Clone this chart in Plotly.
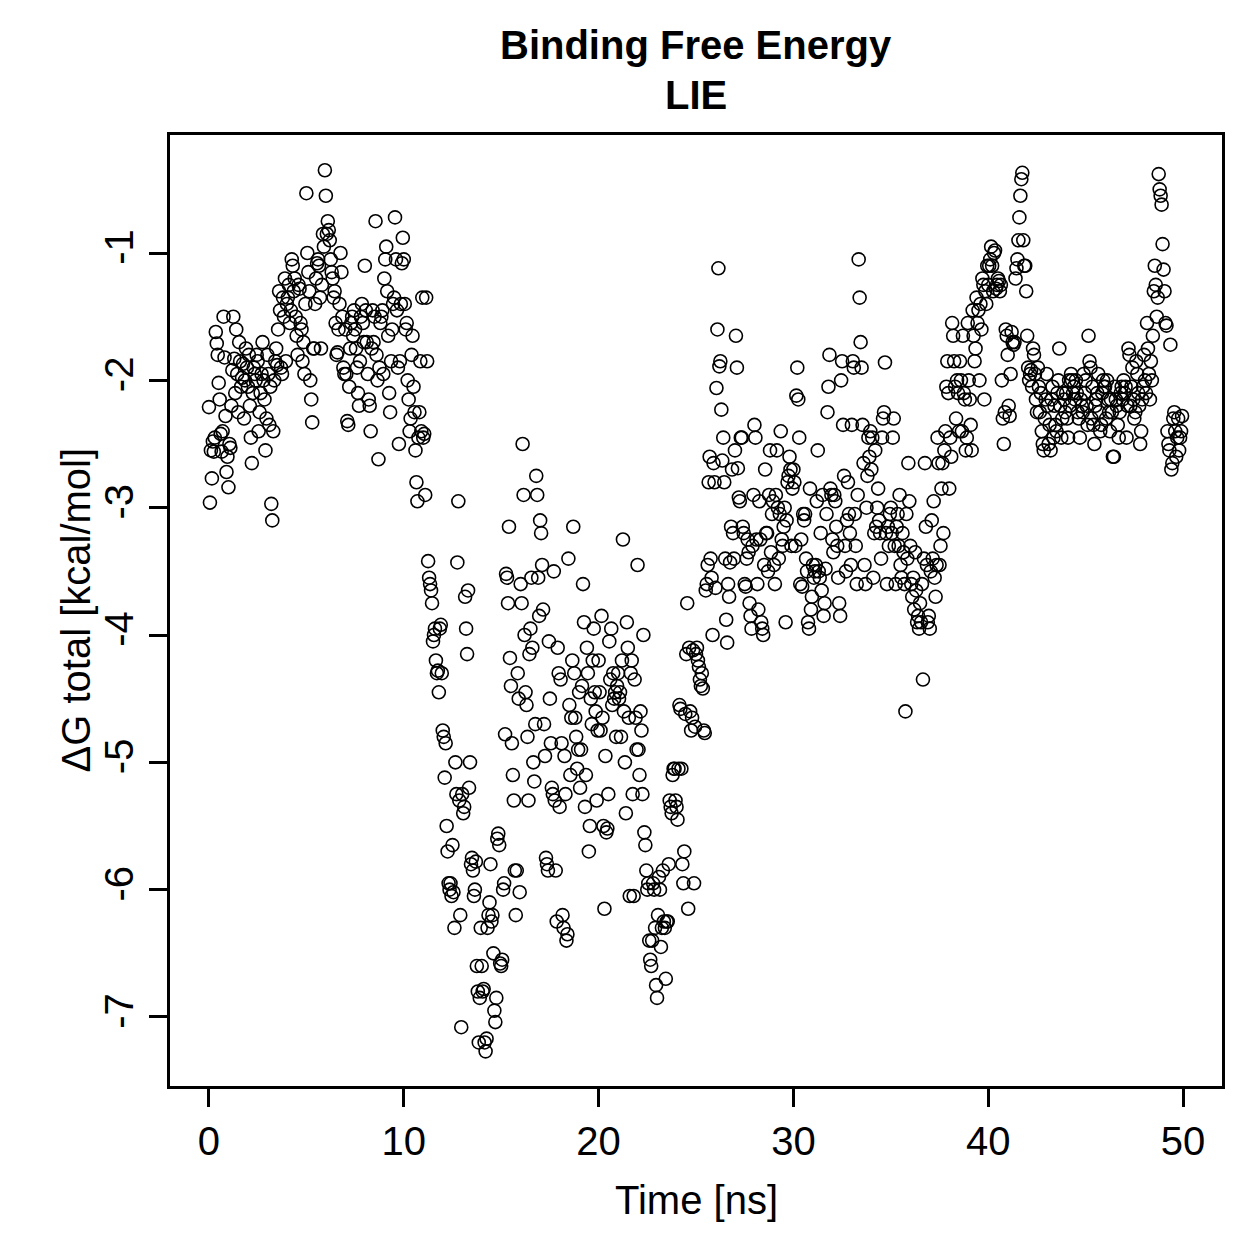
import plotly.graph_objects as go

# Time [ns] of each frame
time_ns = [
0.00,0.05,0.10,0.15,0.20,0.25,0.30,0.35,0.40,0.45,0.50,0.55,0.60,0.65,0.70,0.75,0.80,0.85,0.90,0.95,
1.00,1.05,1.10,1.15,1.20,1.25,1.30,1.35,1.40,1.45,1.50,1.55,1.60,1.65,1.70,1.75,1.80,1.85,1.90,1.95,
2.00,2.05,2.10,2.15,2.20,2.25,2.30,2.35,2.40,2.45,2.50,2.55,2.60,2.65,2.70,2.75,2.80,2.85,2.90,2.95,
3.00,3.05,3.10,3.15,3.20,3.25,3.30,3.35,3.40,3.45,3.50,3.55,3.60,3.65,3.70,3.75,3.80,3.85,3.90,3.95,
4.00,4.05,4.10,4.15,4.20,4.25,4.30,4.35,4.40,4.45,4.50,4.55,4.60,4.65,4.70,4.75,4.80,4.85,4.90,4.95,
5.00,5.05,5.10,5.15,5.20,5.25,5.30,5.35,5.40,5.45,5.50,5.55,5.60,5.65,5.70,5.75,5.80,5.85,5.90,5.95,
6.00,6.05,6.10,6.15,6.20,6.25,6.30,6.35,6.40,6.45,6.50,6.55,6.60,6.65,6.70,6.75,6.80,6.85,6.90,6.95,
7.00,7.05,7.10,7.15,7.20,7.25,7.30,7.35,7.40,7.45,7.50,7.55,7.60,7.65,7.70,7.75,7.80,7.85,7.90,7.95,
8.00,8.05,8.10,8.15,8.20,8.25,8.30,8.35,8.40,8.45,8.50,8.55,8.60,8.65,8.70,8.75,8.80,8.85,8.90,8.95,
9.00,9.05,9.10,9.15,9.20,9.25,9.30,9.35,9.40,9.45,9.50,9.55,9.60,9.65,9.70,9.75,9.80,9.85,9.90,9.95,
10.00,10.05,10.10,10.15,10.20,10.25,10.30,10.35,10.40,10.45,10.50,10.55,10.60,10.65,10.70,10.75,10.80,10.85,10.90,10.95,
11.00,11.05,11.10,11.15,11.20,11.25,11.30,11.35,11.40,11.45,11.50,11.55,11.60,11.65,11.70,11.75,11.80,11.85,11.90,11.95,
12.00,12.05,12.10,12.15,12.20,12.25,12.30,12.35,12.40,12.45,12.50,12.55,12.60,12.65,12.70,12.75,12.80,12.85,12.90,12.95,
13.00,13.05,13.10,13.15,13.20,13.25,13.30,13.35,13.40,13.45,13.50,13.55,13.60,13.65,13.70,13.75,13.80,13.85,13.90,13.95,
14.00,14.05,14.10,14.15,14.20,14.25,14.30,14.35,14.40,14.45,14.50,14.55,14.60,14.65,14.70,14.75,14.80,14.85,14.90,14.95,
15.00,15.05,15.10,15.15,15.20,15.25,15.30,15.35,15.40,15.45,15.50,15.55,15.60,15.65,15.70,15.75,15.80,15.85,15.90,15.95,
16.00,16.05,16.10,16.15,16.20,16.25,16.30,16.35,16.40,16.45,16.50,16.55,16.60,16.65,16.70,16.75,16.80,16.85,16.90,16.95,
17.00,17.05,17.10,17.15,17.20,17.25,17.30,17.35,17.40,17.45,17.50,17.55,17.60,17.65,17.70,17.75,17.80,17.85,17.90,17.95,
18.00,18.05,18.10,18.15,18.20,18.25,18.30,18.35,18.40,18.45,18.50,18.55,18.60,18.65,18.70,18.75,18.80,18.85,18.90,18.95,
19.00,19.05,19.10,19.15,19.20,19.25,19.30,19.35,19.40,19.45,19.50,19.55,19.60,19.65,19.70,19.75,19.80,19.85,19.90,19.95,
20.00,20.05,20.10,20.15,20.20,20.25,20.30,20.35,20.40,20.45,20.50,20.55,20.60,20.65,20.70,20.75,20.80,20.85,20.90,20.95,
21.00,21.05,21.10,21.15,21.20,21.25,21.30,21.35,21.40,21.45,21.50,21.55,21.60,21.65,21.70,21.75,21.80,21.85,21.90,21.95,
22.00,22.05,22.10,22.15,22.20,22.25,22.30,22.35,22.40,22.45,22.50,22.55,22.60,22.65,22.70,22.75,22.80,22.85,22.90,22.95,
23.00,23.05,23.10,23.15,23.20,23.25,23.30,23.35,23.40,23.45,23.50,23.55,23.60,23.65,23.70,23.75,23.80,23.85,23.90,23.95,
24.00,24.05,24.10,24.15,24.20,24.25,24.30,24.35,24.40,24.45,24.50,24.55,24.60,24.65,24.70,24.75,24.80,24.85,24.90,24.95,
25.00,25.05,25.10,25.15,25.20,25.25,25.30,25.35,25.40,25.45,25.50,25.55,25.60,25.65,25.70,25.75,25.80,25.85,25.90,25.95,
26.00,26.05,26.10,26.15,26.20,26.25,26.30,26.35,26.40,26.45,26.50,26.55,26.60,26.65,26.70,26.75,26.80,26.85,26.90,26.95,
27.00,27.05,27.10,27.15,27.20,27.25,27.30,27.35,27.40,27.45,27.50,27.55,27.60,27.65,27.70,27.75,27.80,27.85,27.90,27.95,
28.00,28.05,28.10,28.15,28.20,28.25,28.30,28.35,28.40,28.45,28.50,28.55,28.60,28.65,28.70,28.75,28.80,28.85,28.90,28.95,
29.00,29.05,29.10,29.15,29.20,29.25,29.30,29.35,29.40,29.45,29.50,29.55,29.60,29.65,29.70,29.75,29.80,29.85,29.90,29.95,
30.00,30.05,30.10,30.15,30.20,30.25,30.30,30.35,30.40,30.45,30.50,30.55,30.60,30.65,30.70,30.75,30.80,30.85,30.90,30.95,
31.00,31.05,31.10,31.15,31.20,31.25,31.30,31.35,31.40,31.45,31.50,31.55,31.60,31.65,31.70,31.75,31.80,31.85,31.90,31.95,
32.00,32.05,32.10,32.15,32.20,32.25,32.30,32.35,32.40,32.45,32.50,32.55,32.60,32.65,32.70,32.75,32.80,32.85,32.90,32.95,
33.00,33.05,33.10,33.15,33.20,33.25,33.30,33.35,33.40,33.45,33.50,33.55,33.60,33.65,33.70,33.75,33.80,33.85,33.90,33.95,
34.00,34.05,34.10,34.15,34.20,34.25,34.30,34.35,34.40,34.45,34.50,34.55,34.60,34.65,34.70,34.75,34.80,34.85,34.90,34.95,
35.00,35.05,35.10,35.15,35.20,35.25,35.30,35.35,35.40,35.45,35.50,35.55,35.60,35.65,35.70,35.75,35.80,35.85,35.90,35.95,
36.00,36.05,36.10,36.15,36.20,36.25,36.30,36.35,36.40,36.45,36.50,36.55,36.60,36.65,36.70,36.75,36.80,36.85,36.90,36.95,
37.00,37.05,37.10,37.15,37.20,37.25,37.30,37.35,37.40,37.45,37.50,37.55,37.60,37.65,37.70,37.75,37.80,37.85,37.90,37.95,
38.00,38.05,38.10,38.15,38.20,38.25,38.30,38.35,38.40,38.45,38.50,38.55,38.60,38.65,38.70,38.75,38.80,38.85,38.90,38.95,
39.00,39.05,39.10,39.15,39.20,39.25,39.30,39.35,39.40,39.45,39.50,39.55,39.60,39.65,39.70,39.75,39.80,39.85,39.90,39.95,
40.00,40.05,40.10,40.15,40.20,40.25,40.30,40.35,40.40,40.45,40.50,40.55,40.60,40.65,40.70,40.75,40.80,40.85,40.90,40.95,
41.00,41.05,41.10,41.15,41.20,41.25,41.30,41.35,41.40,41.45,41.50,41.55,41.60,41.65,41.70,41.75,41.80,41.85,41.90,41.95,
42.00,42.05,42.10,42.15,42.20,42.25,42.30,42.35,42.40,42.45,42.50,42.55,42.60,42.65,42.70,42.75,42.80,42.85,42.90,42.95,
43.00,43.05,43.10,43.15,43.20,43.25,43.30,43.35,43.40,43.45,43.50,43.55,43.60,43.65,43.70,43.75,43.80,43.85,43.90,43.95,
44.00,44.05,44.10,44.15,44.20,44.25,44.30,44.35,44.40,44.45,44.50,44.55,44.60,44.65,44.70,44.75,44.80,44.85,44.90,44.95,
45.00,45.05,45.10,45.15,45.20,45.25,45.30,45.35,45.40,45.45,45.50,45.55,45.60,45.65,45.70,45.75,45.80,45.85,45.90,45.95,
46.00,46.05,46.10,46.15,46.20,46.25,46.30,46.35,46.40,46.45,46.50,46.55,46.60,46.65,46.70,46.75,46.80,46.85,46.90,46.95,
47.00,47.05,47.10,47.15,47.20,47.25,47.30,47.35,47.40,47.45,47.50,47.55,47.60,47.65,47.70,47.75,47.80,47.85,47.90,47.95,
48.00,48.05,48.10,48.15,48.20,48.25,48.30,48.35,48.40,48.45,48.50,48.55,48.60,48.65,48.70,48.75,48.80,48.85,48.90,48.95,
49.00,49.05,49.10,49.15,49.20,49.25,49.30,49.35,49.40,49.45,49.50,49.55,49.60,49.65,49.70,49.75,49.80,49.85,49.90,49.95,
]

# Delta G total [kcal/mol] per frame
dg_total = [
-2.21,-2.96,-2.55,-2.77,-2.48,-2.56,-2.45,-1.62,-1.71,-1.80,-2.02,-2.15,-2.42,-2.56,-2.40,-1.50,-1.82,-2.28,-2.72,-2.60,
-2.84,-2.50,-2.53,-2.20,-1.92,-1.50,-1.83,-2.10,-1.60,-1.95,-2.25,-1.70,-1.85,-2.05,-1.98,-1.87,-2.30,-2.00,-1.75,-1.90,
-2.05,-1.80,-2.20,-2.45,-2.65,-2.10,-1.90,-1.95,-2.00,-1.80,-1.85,-2.40,-2.25,-2.10,-1.95,-1.70,-2.00,-2.15,-2.55,-2.30,
-1.80,-1.95,-2.35,-2.05,-2.97,-3.10,-2.40,-2.00,-1.85,-1.75,-1.88,-1.60,-1.30,-1.45,-1.90,-1.95,-1.35,-1.50,-1.20,-1.85,
-1.40,-1.35,-1.25,-1.55,-1.45,-1.05,-1.10,-1.30,-1.20,-1.50,-1.65,-1.80,-1.25,-1.28,-1.55,-1.60,-1.85,-1.70,-1.95,-1.40,
-0.53,-1.00,-1.15,-1.30,-2.00,-2.15,-2.33,-1.75,-1.75,-1.40,-1.20,-1.08,-1.05,-1.10,-1.35,-1.75,-1.25,-0.85,-0.95,-0.35,
-0.55,-0.85,-0.75,-0.82,-0.90,-1.05,-1.15,-1.20,-1.35,-1.30,-1.55,-1.80,-1.78,-1.60,-1.40,-1.00,-1.15,-1.50,-1.90,-1.95,
-1.60,-1.95,-2.32,-2.35,-2.05,-1.75,-1.55,-1.50,-1.65,-1.45,-1.60,-1.75,-1.90,-2.10,-2.20,-1.85,-1.50,-1.40,-1.55,-1.70,
-1.10,-1.45,-1.70,-1.95,-2.15,-2.20,-2.40,-1.75,-1.45,-1.70,-1.50,-0.75,-1.80,-2.00,-2.62,-1.90,-1.55,-1.50,-1.45,-1.95,
-1.20,-1.05,-0.95,-1.30,-1.65,-2.10,-2.25,-1.85,-1.60,-1.40,-1.35,-0.72,-1.05,-1.45,-1.90,-2.50,-1.85,-1.40,-1.08,-0.88,
-1.05,-1.40,-1.60,-1.55,-2.00,-2.15,-2.40,-2.30,-1.80,-1.65,-2.05,-2.25,-2.55,-2.80,-2.95,-2.45,-2.25,-1.85,-2.40,-1.35,
-2.45,-2.42,-2.90,-1.35,-1.85,-3.42,-3.55,-3.60,-3.65,-3.75,-4.05,-4.00,-3.95,-4.20,-4.30,-4.28,-4.45,-3.95,-3.92,-4.30,
-4.75,-4.80,-5.12,-4.85,-5.50,-5.70,-5.95,-6.00,-5.95,-6.05,-5.65,-6.02,-6.30,-5.00,-5.25,-3.43,-2.95,-5.30,-6.20,-7.08,
-5.25,-5.40,-5.35,-3.70,-3.95,-4.15,-3.65,-5.20,-5.00,-5.80,-5.75,-5.85,-6.05,-6.00,-5.78,-6.60,-6.80,-7.20,-6.85,-6.30,
-6.60,-6.80,-6.78,-7.20,-7.27,-7.17,-6.30,-6.20,-6.10,-5.80,-6.25,-6.20,-6.50,-6.95,-7.04,-6.85,-5.60,-5.56,-5.65,-6.58,
-6.60,-6.55,-6.00,-5.95,-4.78,-3.52,-3.55,-3.75,-3.15,-4.18,-4.40,-4.85,-5.10,-5.30,-5.85,-6.20,-5.85,-4.30,-4.50,-6.02,
-3.60,-3.75,-2.50,-2.90,-4.00,-4.45,-4.55,-4.80,-5.30,-4.15,-3.95,-3.55,-4.10,-5.00,-5.15,-4.70,-2.75,-2.90,-3.55,-3.85,
-3.10,-3.20,-3.45,-3.80,-4.70,-4.95,-5.75,-5.80,-5.85,-4.05,-4.50,-4.85,-5.20,-5.25,-3.50,-5.30,-5.85,-6.25,-4.10,-4.30,
-5.35,-4.35,-4.85,-6.20,-6.30,-4.95,-5.25,-6.40,-6.35,-3.40,-4.55,-5.10,-4.65,-4.20,-3.15,-4.30,-4.65,-4.80,-5.05,-4.90,
-4.45,-5.20,-4.90,-4.40,-3.60,-3.90,-5.35,-5.10,-4.10,-4.30,-5.70,-5.50,-4.50,-4.70,-4.20,-3.95,-4.45,-4.60,-5.30,-4.75,
-4.20,-4.45,-4.75,-3.85,-4.65,-5.50,-6.15,-4.95,-5.55,-5.52,-5.25,-4.05,-4.35,-3.95,-4.55,-4.30,-4.50,-4.45,-4.80,-4.40,
-4.30,-4.50,-4.45,-4.80,-4.20,-3.25,-4.60,-5.00,-5.40,-3.90,-4.10,-4.65,-6.05,-4.30,-4.20,-5.25,-6.05,-4.35,-4.65,-4.90,
-3.45,-4.90,-5.10,-4.60,-4.75,-5.25,-4.00,-5.55,-5.65,-5.85,-6.00,-5.95,-6.40,-6.55,-6.60,-6.40,-5.95,-6.00,-6.30,-6.75,
-6.85,-6.20,-5.90,-6.00,-6.45,-6.30,-5.85,-6.25,-6.30,-6.70,-6.25,-6.25,-5.80,-5.30,-5.35,-5.40,-5.10,-5.05,-5.05,-5.30,
-5.35,-5.45,-5.05,-4.55,-4.58,-5.05,-5.80,-5.95,-5.70,-4.62,-4.15,-3.75,-6.15,-4.10,-4.60,-4.75,-4.65,-4.12,-5.95,-4.72,
-4.15,-4.10,-4.20,-4.25,-4.35,-4.40,-4.30,-4.42,-4.75,-4.77,-3.65,-3.60,-3.45,-2.80,-2.60,-3.40,-3.55,-4.00,-2.65,-2.80,
-3.63,-2.06,-1.60,-1.12,-1.89,-1.85,-2.23,-2.63,-2.45,-2.80,-3.40,-3.88,-4.06,-3.60,-3.70,-3.43,-3.15,-2.70,-3.20,-3.40,
-2.55,-1.65,-1.90,-2.69,-2.92,-2.95,-2.45,-2.45,-3.15,-3.20,-3.60,-3.62,-3.40,-3.25,-3.35,-3.75,-3.85,-3.95,-3.30,-2.90,
-2.35,-2.45,-3.25,-3.60,-3.80,-2.95,-3.25,-3.90,-3.95,-4.00,-3.45,-2.70,-3.20,-3.20,-3.50,-2.90,-2.55,-3.35,-3.05,-2.95,
-3.45,-3.60,-2.90,-2.55,-3.00,-3.40,-3.05,-2.40,-3.25,-3.30,-3.15,-3.00,-3.90,-3.10,-2.80,-2.75,-2.60,-2.70,-3.30,-2.85,
-2.70,-2.80,-3.30,-2.12,-1.90,-2.15,-2.45,-3.60,-3.25,-3.62,-3.05,-3.10,-3.05,-3.40,-3.50,-3.90,-3.95,-2.85,-3.80,-3.70,
-3.45,-3.55,-3.50,-3.45,-2.95,-2.55,-3.50,-3.55,-3.20,-3.65,-2.90,-3.85,-3.75,-3.48,-3.05,-2.25,-2.05,-1.80,-2.85,-2.90,
-3.25,-3.35,-2.90,-2.95,-3.15,-3.30,-3.55,-3.75,-3.85,-2.00,-1.85,-2.35,-2.75,-3.30,-3.50,-3.10,-2.80,-3.05,-3.20,-3.45,
-2.35,-1.85,-1.90,-3.05,-3.30,-3.60,-2.90,-1.05,-1.35,-1.70,-1.90,-2.35,-2.65,-3.45,-3.60,-3.00,-2.75,-2.45,-2.60,-2.40,
-2.70,-2.45,-3.55,-3.20,-2.55,-3.15,-3.00,-2.85,-3.10,-3.20,-3.40,-2.45,-2.30,-2.25,-1.86,-3.20,-3.60,-3.15,-3.30,-3.05,
-3.00,-3.20,-2.45,-2.30,-3.30,-3.60,-3.15,-3.05,-3.30,-2.90,-3.45,-3.55,-3.20,-3.35,-3.60,-4.60,-3.05,-3.40,-2.65,-2.95,
-3.30,-3.60,-3.70,-3.55,-3.80,-3.35,-3.65,-3.90,-3.85,-3.95,-3.75,-3.90,-3.60,-4.35,-3.40,-2.65,-3.15,-3.45,-3.90,-3.85,
-3.95,-3.50,-3.10,-3.40,-2.95,-3.55,-3.70,-3.45,-2.45,-2.65,-3.45,-3.30,-2.85,-2.65,-3.20,-2.55,-2.40,-2.05,-1.85,-2.10,
-2.85,-2.45,-2.60,-1.55,-1.65,-1.85,-2.05,-2.30,-2.00,-2.10,-2.40,-1.85,-2.00,-2.40,-1.65,-2.10,-2.15,-2.55,-2.45,-1.55,
-2.00,-2.15,-2.35,-2.55,-1.45,-1.65,-1.85,-1.75,-1.35,-1.55,-1.45,-2.00,-1.40,-1.60,-1.20,-1.25,-2.15,-1.30,-1.40,-1.10,
-1.25,-1.10,-1.05,-0.95,-1.10,-1.30,-1.00,-0.98,-1.28,-1.25,-1.20,-1.22,-1.30,-1.25,-2.00,-2.30,-2.50,-2.25,-1.60,-1.65,
-1.80,-2.20,-2.28,-1.95,-1.62,-1.70,-1.72,-1.70,-1.20,-1.12,-1.05,-0.90,-0.72,-0.55,-0.42,-0.37,-0.90,-1.10,-1.10,-1.30,
-1.65,-1.90,-2.00,-1.95,-1.92,-2.05,-1.75,-1.80,-1.95,-2.15,-2.25,-1.90,-2.05,-2.25,-2.10,-2.40,-2.50,-2.55,-2.30,-2.15,
-1.95,-2.20,-2.50,-2.35,-2.55,-2.15,-2.05,-2.45,-2.20,-2.35,-2.40,-2.10,-2.00,-1.75,-2.20,-2.45,-2.30,-2.10,-2.15,-2.25,
-2.10,-2.30,-2.45,-2.00,-2.20,-1.95,-2.00,-2.10,-2.05,-2.15,-2.00,-2.10,-2.25,-2.30,-2.45,-2.15,-2.20,-2.25,-1.95,-2.10,
-2.00,-2.20,-2.35,-1.65,-1.85,-1.90,-2.30,-2.05,-2.35,-2.50,-2.20,-2.15,-2.10,-1.95,-2.25,-2.40,-2.35,-2.10,-2.00,-2.05,
-2.05,-2.30,-2.00,-2.15,-2.25,-2.40,-2.15,-2.25,-2.60,-2.60,-2.05,-2.15,-2.20,-2.35,-2.45,-2.25,-2.10,-2.05,-2.15,-2.00,
-2.10,-2.05,-2.45,-2.20,-1.75,-1.80,-2.20,-2.05,-1.90,-2.15,-2.30,-2.25,-1.85,-1.95,-2.10,-2.20,-2.50,-2.40,-2.15,-2.05,
-1.80,-2.00,-2.10,-1.55,-1.75,-1.95,-2.15,-1.85,-2.00,-1.65,-1.30,-1.10,-1.25,-1.50,-1.35,-0.38,-0.50,-0.55,-0.62,-0.93,
-1.13,-1.30,-1.55,-1.57,-2.40,-2.50,-2.55,-1.72,-2.70,-2.65,-2.30,-2.25,-2.40,-2.60,-2.45,-2.30,-2.55,-2.45,-2.40,-2.28,
]

x_tick_vals = [0, 10, 20, 30, 40, 50]
x_tick_text = ["0", "10", "20", "30", "40", "50"]
y_tick_vals = [-7, -6, -5, -4, -3, -2, -1]
y_tick_text = ["-7", "-6", "-5", "-4", "-3", "-2", "-1"]

title_line1 = "Binding Free Energy"
title_line2 = "LIE"
x_label = "Time [ns]"
y_label = "\u0394G total [kcal/mol]"

FONT = "Liberation Sans, Arial, Helvetica, sans-serif"

fig = go.Figure()
fig.add_trace(go.Scatter(
    x=time_ns, y=dg_total, mode="markers",
    marker=dict(symbol="circle-open", size=13, color="black",
                line=dict(width=1.6, color="black")),
    showlegend=False, hoverinfo="x+y",
))

axis_common = dict(
    showgrid=False, zeroline=False,
    showline=True, linecolor="black", linewidth=2.5, mirror=True,
    ticks="outside", ticklen=18, tickwidth=2.5, tickcolor="black",
    tickfont=dict(family=FONT, size=40, color="black"),
)

fig.update_layout(
    width=1259, height=1259, autosize=False,
    paper_bgcolor="white", plot_bgcolor="white",
    margin=dict(l=170, r=37, t=135, b=173),
    xaxis=dict(range=[-2, 52], tickmode="array", tickvals=x_tick_vals,
               ticktext=x_tick_text, **axis_common),
    yaxis=dict(range=[-7.542, -0.073], tickmode="array", tickvals=y_tick_vals,
               ticktext=y_tick_text, tickangle=-90, **axis_common),
    annotations=[
        dict(text="<b>" + title_line1 + "</b>", xref="paper", yref="paper",
             x=0.5, y=(1086 - 45) / 951, xanchor="center", yanchor="middle",
             showarrow=False, font=dict(family=FONT, size=40, color="black")),
        dict(text="<b>" + title_line2 + "</b>", xref="paper", yref="paper",
             x=0.5, y=(1086 - 95) / 951, xanchor="center", yanchor="middle",
             showarrow=False, font=dict(family=FONT, size=40, color="black")),
        dict(text=x_label, xref="paper", yref="paper",
             x=0.5, y=(1086 - 1200) / 951, xanchor="center", yanchor="middle",
             showarrow=False, font=dict(family=FONT, size=40, color="black")),
        dict(text=y_label, xref="paper", yref="paper",
             x=(75 - 170) / 1052, y=0.5, xanchor="center", yanchor="middle",
             textangle=-90, showarrow=False,
             font=dict(family=FONT, size=40, color="black")),
    ],
)

fig.write_html("out.html")
